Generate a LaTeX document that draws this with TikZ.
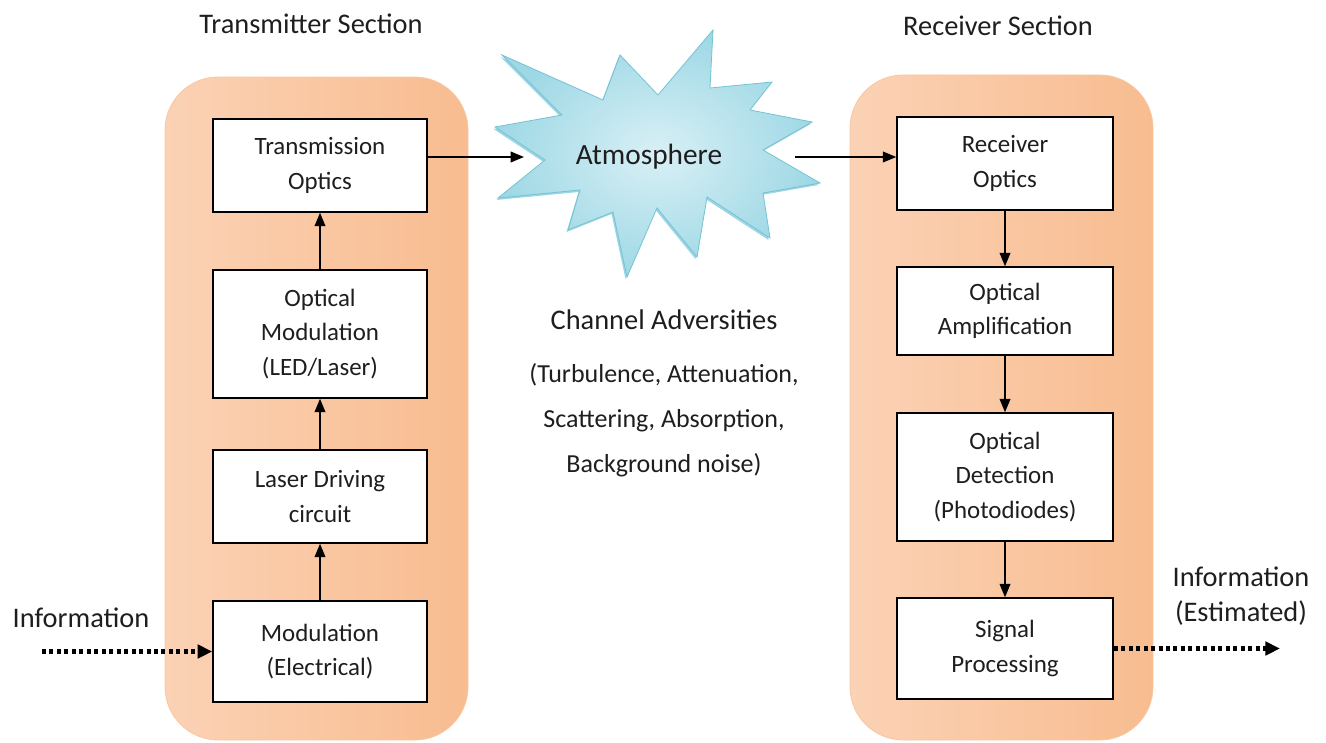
\documentclass[tikz,border=0pt]{standalone}
\usepackage{fontspec}
\setmainfont{Carlito}
\usetikzlibrary{arrows.meta,shadings}
\definecolor{orD}{HTML}{F8BC90}
\definecolor{orM}{HTML}{FBD2B5}
\definecolor{orL}{HTML}{FFF3EC}
\definecolor{skyD}{HTML}{9ED8E5}
\definecolor{skyL}{HTML}{D9F0F6}
\definecolor{skyE}{HTML}{74C3D5}
\definecolor{txt}{HTML}{1E1E1E}
\begin{document}
\begin{tikzpicture}[x=0.75pt,y=-0.75pt,
  panel/.style={rounded corners=40pt, left color=orM, middle color=orL, right color=orD, draw=orD!85!white, line width=0.6pt},
  blk/.style={draw=black, fill=white, line width=1.1pt, align=center, text=txt, font=\fontsize{18.7}{26}\selectfont, minimum width=160.5pt, inner sep=0pt},
  arr/.style={line width=1.1pt, -{Triangle[length=10pt,width=8pt]}},
  dotarr/.style={line width=3.3pt, dash pattern=on 3pt off 2.6pt, -{Triangle[length=11pt,width=10pt]}},
  lbl/.style={text=txt, font=\fontsize{21.3}{26}\selectfont, align=center},
  sub/.style={text=txt, font=\fontsize{19.5}{33.75}\selectfont, align=center}
]
\useasboundingbox (0,0) rectangle (1326,742);
% panels
\path[panel] (165,77) rectangle (468,740);
\path[panel] (850,75) rectangle (1153,740);
% starburst shadow and body
\fill[skyE!70!white] ([shift={(-1.5,2)}]502,55) -- ([shift={(-1.5,2)}]603,100) -- ([shift={(-1.5,2)}]620,55) -- ([shift={(-1.5,2)}]658,95) -- ([shift={(-1.5,2)}]713,30) -- ([shift={(-1.5,2)}]710,88) -- ([shift={(-1.5,2)}]772,82) -- ([shift={(-1.5,2)}]750,110) -- ([shift={(-1.5,2)}]812,122) -- ([shift={(-1.5,2)}]763,150) -- ([shift={(-1.5,2)}]820,183) -- ([shift={(-1.5,2)}]763,193) -- ([shift={(-1.5,2)}]770,238) -- ([shift={(-1.5,2)}]707,197) -- ([shift={(-1.5,2)}]697,257) -- ([shift={(-1.5,2)}]657,208) -- ([shift={(-1.5,2)}]627,277) -- ([shift={(-1.5,2)}]613,212) -- ([shift={(-1.5,2)}]568,230) -- ([shift={(-1.5,2)}]580,190) -- ([shift={(-1.5,2)}]498,198) -- ([shift={(-1.5,2)}]545,160) -- ([shift={(-1.5,2)}]495,127) -- ([shift={(-1.5,2)}]562,115) -- cycle;
\shade[inner color=skyL, outer color=skyD, draw=skyE, line width=0.6pt]
  (502,55) -- (603,100) -- (620,55) -- (658,95) -- (713,30) -- (710,88) -- (772,82) -- (750,110) -- (812,122) -- (763,150) -- (820,183) -- (763,193) -- (770,238) -- (707,197) -- (697,257) -- (657,208) -- (627,277) -- (613,212) -- (568,230) -- (580,190) -- (498,198) -- (545,160) -- (495,127) -- (562,115) -- cycle;
\node[text=txt, font=\fontsize{22}{26}\selectfont] (atm) at (649,157) {Atmosphere};
\coordinate (atmW) at (524,157);
\coordinate (atmE) at (795,157);
% headings and texts
\node[lbl] (tsec) at (311,24) {Transmitter Section};
\node[lbl] (rsec) at (998,26) {Receiver Section};
\node[lbl] (chan) at (664,320) {Channel Adversities};
\node[sub] (adv) at (664,420) {(Turbulence, Attenuation,\\Scattering, Absorption,\\Background noise)};
\node[lbl] (infL) at (81,618) {Information};
\node[lbl] (infR) at (1241,596) {Information\\(Estimated)};
% transmitter blocks
\node[blk, minimum height=69.75pt] (tx) at (320,165.5) {Transmission\\Optics};
\node[blk, minimum height=96pt] (om) at (320,334) {Optical\\Modulation\\(LED/Laser)};
\node[blk, minimum height=69.75pt] (ld) at (320,496.5) {Laser Driving\\circuit};
\node[blk, minimum height=75.75pt] (mod) at (320,651.5) {Modulation\\(Electrical)};
% receiver blocks
\node[blk, minimum width=162pt, minimum height=69.75pt] (rx) at (1005,163.5) {Receiver\\Optics};
\node[blk, minimum width=162pt, minimum height=66pt] (amp) at (1005,311) {Optical\\Amplification};
\node[blk, minimum width=162pt, minimum height=96pt] (det) at (1005,477) {Optical\\Detection\\(Photodiodes)};
\node[blk, minimum width=162pt, minimum height=75.75pt] (sp) at (1005,648.5) {Signal\\Processing};
% connectors
\draw[arr] (mod) -- (ld);
\draw[arr] (ld) -- (om);
\draw[arr] (om) -- (tx);
\draw[arr] (tx.east |- atmW) -- (atmW);
\draw[arr] (atmE) -- (rx.west |- atmE);
\draw[arr] (rx) -- (amp);
\draw[arr] (amp) -- (det);
\draw[arr] (det) -- (sp);
\coordinate (inL) at (42,651.5);
\coordinate (outR) at (1280,648.5);
\draw[dotarr] (inL) -- (mod.west);
\draw[dotarr] (sp.east) -- (outR);
\end{tikzpicture}
\end{document}
